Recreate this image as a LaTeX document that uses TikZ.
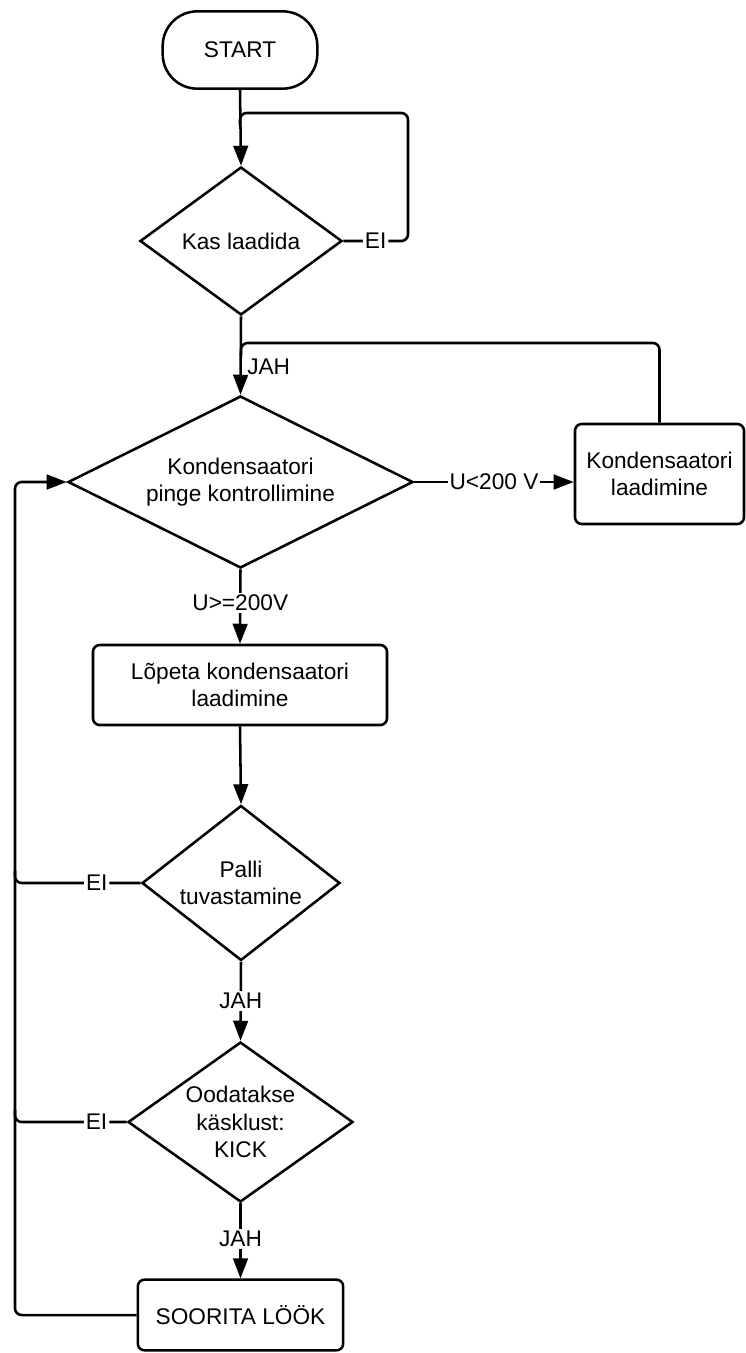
\documentclass[tikz,border=0pt]{standalone}
\usepackage{fontspec}
\setmainfont{Liberation Sans}
\usetikzlibrary{arrows.meta,shapes.geometric}

\begin{document}
\begin{tikzpicture}[
    x=0.75pt, y=-0.75pt,
    font=\fontsize{17}{20.5}\selectfont,
    line width=1.9pt,
    terminal/.style={draw, rounded corners=26pt, minimum width=116pt, minimum height=58pt},
    process/.style={draw, rounded corners=5pt, align=center},
    decision/.style={draw, diamond, inner sep=0pt, align=center},
    flow/.style={-{Triangle[length=15pt,width=11pt]}},
    link/.style={rounded corners=5pt},
    lbl/.style={fill=white, inner sep=1.5pt}
]
\useasboundingbox (0,0) rectangle (746,1353);

% plokid
\node[terminal] (start) at (240,50) {START};
\node[decision, minimum width=151.5pt, minimum height=111pt, aspect=1.36] (kas) at (241,241) {Kas laadida};
\node[decision, minimum width=258.75pt, minimum height=129pt, aspect=2] (kontroll) at (240.5,482) {Kondensaatori\\pinge kontrollimine};
\node[process, minimum width=126.75pt, minimum height=75pt] (laad) at (659.5,474) {Kondensaatori\\laadimine};
\node[process, minimum width=220.5pt, minimum height=60pt] (lopeta) at (240,685) {Lõpeta kondensaatori\\laadimine};
\node[decision, minimum width=148.5pt, minimum height=116.25pt, aspect=1.28] (palli) at (241,883) {Palli\\tuvastamine};
\node[decision, minimum width=168.75pt, minimum height=120pt, aspect=1.4] (ooda) at (240.5,1122) {Oodatakse\\käsklust:\\KICK};
\node[process, minimum width=154pt, minimum height=53pt] (soorita) at (240.5,1315) {SOORITA LÖÖK};

% abipunktid
\coordinate (loopR) at (408,113);
\coordinate (jah1) at (241,343);
\coordinate (rail) at (15,482);

% ühendused
\draw[flow] (start.south) -- (kas.north);
\draw[link] (kas.east) -- node[lbl]{EI} (kas.east -| loopR) -- (loopR) -- (start.south |- loopR) -- ++(0,12);
\draw[flow] (kas.south) -- node[right, pos=0.64, inner sep=4pt]{JAH} (kontroll.north);
\draw[link] (laad.north) |- (jah1) -- ++(0,12);
\draw[flow] (kontroll.east) -- node[lbl]{U<200 V} (kontroll.east -| laad.west);
\draw[flow] (kontroll.south) -- node[lbl, pos=0.45]{U>=200V} (lopeta.north);
\draw[flow] (lopeta.south) -- (palli.north);
\draw[link] (palli.west) -- node[lbl, pos=0.35]{EI} (palli.west -| rail) -- ++(0,-12);
\draw[flow] (palli.south) -- node[lbl]{JAH} (ooda.north);
\draw[link] (ooda.west) -- node[lbl, pos=0.27]{EI} (ooda.west -| rail) -- ++(0,-12);
\draw[flow] (ooda.south) -- node[lbl, pos=0.47]{JAH} (soorita.north);
\draw[flow, link] (soorita.west) -| (rail) -- (kontroll.west);
\end{tikzpicture}
\end{document}
